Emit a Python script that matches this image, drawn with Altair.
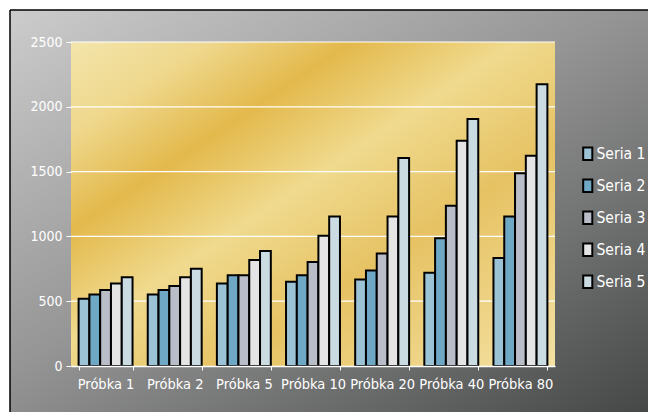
import altair as alt
import pandas as pd

samples = ["Próbka 1", "Próbka 2", "Próbka 5", "Próbka 10", "Próbka 20", "Próbka 40", "Próbka 80"]
series_names = ["Seria 1", "Seria 2", "Seria 3", "Seria 4", "Seria 5"]
s1 = [518, 551, 636, 651, 667, 720, 833]
s2 = [551, 587, 700, 700, 736, 985, 1154]
s3 = [587, 618, 700, 802, 869, 1236, 1487]
s4 = [636, 685, 818, 1005, 1154, 1738, 1623]
s5 = [685, 751, 887, 1154, 1605, 1905, 2174]
colors = ["#9CC3D5", "#6FA8C4", "#B9BDC7", "#E4E4E4", "#CADBE2"]
grid_vals = [500, 1000, 1500, 2000, 2500]

rows = []
for name, vals in zip(series_names, [s1, s2, s3, s4, s5]):
    for s, v in zip(samples, vals):
        rows.append({"sample": s, "series": name, "value": v})
df = pd.DataFrame(rows)

W, H = 484, 324
FONT = "DejaVu Sans Condensed, Liberation Sans, sans-serif"

gray_grad = {
    "gradient": "linear", "x1": 0, "y1": 0, "x2": 1, "y2": 1,
    "stops": [
        {"offset": 0, "color": "#cccccc"},
        {"offset": 0.45, "color": "#959595"},
        {"offset": 1, "color": "#414343"},
    ],
}
gold_grad = {
    "gradient": "linear", "x1": 0, "y1": 0, "x2": 1, "y2": 1,
    "stops": [
        {"offset": 0, "color": "#f3e5aa"},
        {"offset": 0.14, "color": "#efd88e"},
        {"offset": 0.29, "color": "#e3b94c"},
        {"offset": 0.46, "color": "#f0da8e"},
        {"offset": 0.66, "color": "#e6c263"},
        {"offset": 0.86, "color": "#efd589"},
        {"offset": 1, "color": "#f3e2a4"},
    ],
}

one = alt.Data(values=[{}])

frame = alt.Chart(one).mark_rect(fill=gray_grad).encode(
    x=alt.value(-61), x2=alt.value(620), y=alt.value(-32), y2=alt.value(370)
)
border_left = alt.Chart(one).mark_rule(color="black", strokeWidth=1.5).encode(
    x=alt.value(-61), y=alt.value(-32), y2=alt.value(370)
)
border_top = alt.Chart(one).mark_rule(color="black", strokeWidth=1.5).encode(
    x=alt.value(-61), x2=alt.value(620), y=alt.value(-32)
)
plot_bg = alt.Chart(one).mark_rect(fill=gold_grad).encode(
    x=alt.value(0), x2=alt.value(W), y=alt.value(0), y2=alt.value(H)
)

grid = alt.Chart(pd.DataFrame({"g": grid_vals})).mark_rule(color="white", strokeWidth=1.2).encode(
    y=alt.Y("g:Q", scale=alt.Scale(domain=[0, 2500])),
    x=alt.value(0), x2=alt.value(W),
)

bars = alt.Chart(df).mark_bar(stroke="black", strokeWidth=2).encode(
    x=alt.X("sample:N", sort=samples, title=None,
            scale=alt.Scale(paddingInner=0.22, paddingOuter=0.11),
            axis=alt.Axis(labelAngle=0, labelColor="white", labelFont=FONT, labelFontSize=14.5,
                          domainColor="white", domainWidth=1.5, tickColor="white", tickSize=4,
                          tickBand="extent", labelPadding=7, grid=False, zindex=1)),
    xOffset=alt.XOffset("series:N", sort=series_names, scale=alt.Scale(paddingInner=0, paddingOuter=0)),
    y=alt.Y("value:Q", title=None, scale=alt.Scale(domain=[0, 2500], nice=False),
            axis=alt.Axis(values=[0, 500, 1000, 1500, 2000, 2500], format="d", labelColor="white",
                          labelFont=FONT, labelFontSize=14, domain=False, tickColor="white", tickSize=5,
                          labelPadding=4, grid=False, zindex=1)),
    color=alt.Color("series:N", sort=series_names,
                    scale=alt.Scale(domain=series_names, range=colors),
                    legend=alt.Legend(title=None, orient="none", legendX=509, legendY=104,
                                      labelColor="white", labelFont=FONT, labelFontSize=15.5,
                                      symbolType="M-0.72,-1L0.72,-1L0.72,1L-0.72,1Z",
                                      symbolSize=160, symbolStrokeColor="black", symbolStrokeWidth=2,
                                      symbolOpacity=1, rowPadding=10, labelOffset=1, zindex=1)),
)

chart = alt.layer(frame, border_left, border_top, plot_bg, grid, bars).properties(
    width=W, height=H,
    autosize=alt.AutoSizeParams(type="none"),
    padding={"left": 71, "top": 42, "right": 93, "bottom": 49},
    background="white",
).configure_view(stroke=None)

chart.save("out.html", embed_options={"renderer": "svg", "actions": False})
